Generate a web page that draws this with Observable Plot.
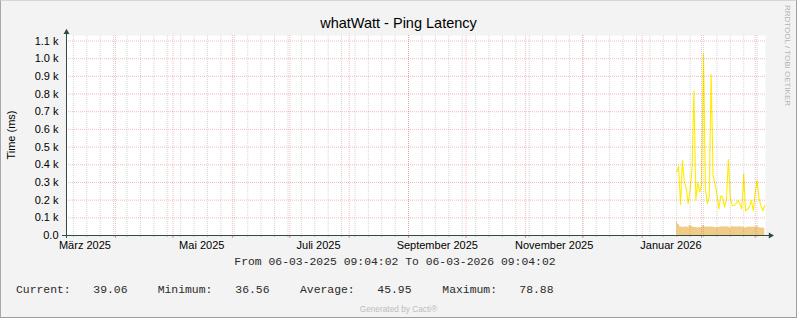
<!DOCTYPE html>
<html>
<head>
<meta charset="utf-8">
<script src="https://cdn.jsdelivr.net/npm/d3@7"></script>
<script src="https://cdn.jsdelivr.net/npm/@observablehq/plot@0.6"></script>
<style>
  html, body { margin: 0; padding: 0; background: #F3F3F3; }
  #chart { position: relative; width: 797px; height: 318px; background: #F3F3F3; overflow: hidden; }
  #chart svg { position: absolute; left: 0; top: 0; }
  .t { position: absolute; white-space: pre; margin: 0; }
  .sans { font-family: "Liberation Sans", Arial, sans-serif; }
  .mono { font-family: "Liberation Mono", "Courier New", monospace; font-size: 11.4px; line-height: 11.4px; color: #2A2A2A; }
  #border { position: absolute; left: 0; top: 0; width: 797px; height: 318px; box-sizing: border-box;
            border-top: 1px solid #D6D6D6; border-left: 1px solid #A8A8A8; border-right: 1px solid #9E9E9E; border-bottom: 1px solid #9E9E9E; pointer-events: none; }
</style>
</head>
<body>
<div id="chart"></div>
<script>
// ---- chart values ----
const titleText = "whatWatt - Ping Latency";
const yAxisLabel = "Time (ms)";
const rangeText = "From 06-03-2025 09:04:02 To 06-03-2026 09:04:02";
const sideText = "RRDTOOL / TOBI OETIKER";
const creditText = "Generated by Cacti®";

const startTime = new Date(Date.UTC(2025, 2, 6, 9, 4, 2));
const endTime = new Date(Date.UTC(2026, 2, 6, 9, 4, 2));

const sampleDays = [
  "2026-01-19","2026-01-20","2026-01-21","2026-01-22","2026-01-23","2026-01-24","2026-01-25",
  "2026-01-26","2026-01-27","2026-01-28","2026-01-29","2026-01-30","2026-01-31",
  "2026-02-01","2026-02-02","2026-02-03","2026-02-04","2026-02-05","2026-02-06","2026-02-07",
  "2026-02-08","2026-02-09","2026-02-10","2026-02-11","2026-02-12","2026-02-13","2026-02-14",
  "2026-02-15","2026-02-16","2026-02-17","2026-02-18","2026-02-19","2026-02-20","2026-02-21",
  "2026-02-22","2026-02-23","2026-02-24","2026-02-25","2026-02-26","2026-02-27","2026-02-28",
  "2026-03-01","2026-03-02","2026-03-03","2026-03-04","2026-03-05","2026-03-06"
];
// peak latency (yellow line), ms
const peakLatency = [
  360, 390, 175, 425, 300, 265, 180, 255, 370, 820, 200, 300, 245,
  290, 1030, 270, 180, 215, 910, 340, 290, 235, 150, 225, 215, 160, 205,
  430, 215, 170, 170, 180, 198, 180, 150, 348, 140, 150, 160, 198, 140,
  240, 312, 208, 170, 140, 170
];
// average latency (filled area), ms
const avgLatency = [
  78.9, 62, 50, 47, 47, 48, 46, 56, 50, 47, 45, 44, 44,
  45, 55, 48, 47, 48, 48, 47, 45, 44, 45, 49, 48, 49, 48,
  48, 42, 49, 48, 48, 48, 49, 48, 47, 43, 47, 46, 47, 47,
  46, 54, 44, 43, 42, 39
];

const yMax = 1131;
const yTicks = [0, 100, 200, 300, 400, 500, 600, 700, 800, 900, 1000, 1100];
const yTickLabels = ["0.0", "0.1 k", "0.2 k", "0.3 k", "0.4 k", "0.5 k", "0.6 k", "0.7 k", "0.8 k", "0.9 k", "1.0 k", "1.1 k"];
const xTickDates = ["2025-03-16", "2025-05-16", "2025-07-16", "2025-09-16", "2025-11-16", "2026-01-16"];
const xTickLabels = ["März 2025", "Mai 2025", "Juli 2025", "September 2025", "November 2025", "Januar 2026"];

const legendLabels = ["Current:", "Minimum:", "Average:", "Maximum:"];
const legendValues = ["39.06", "36.56", "45.95", "78.88"];

// ---- build ----
const rows = sampleDays.map((d, i) => ({date: new Date(d + "T00:00:00Z"), peak: peakLatency[i], avg: avgLatency[i]}));
const yLabelOf = new Map(yTicks.map((v, i) => [v, yTickLabels[i]]));
const xTicks = xTickDates.map(d => new Date(d + "T00:00:00Z"));
const xLabelOf = new Map(xTicks.map((d, i) => [+d, xTickLabels[i]]));
const mondays = d3.utcMonday.range(startTime, endTime);
const monthStarts = d3.utcMonth.range(startTime, endTime);

const axisColor = "#2C4D43";
const majorGrid = "#E06060";
const minorGrid = "#8A8A8A";

const chart = Plot.plot({
  width: 797,
  height: 318,
  marginLeft: 66,
  marginRight: 32,
  marginTop: 35,
  marginBottom: 83,
  style: {background: "transparent", fontFamily: "'Liberation Sans', Arial, sans-serif", fontSize: "11px", color: "#000", overflow: "visible"},
  x: {type: "utc", domain: [startTime, endTime]},
  y: {domain: [0, yMax]},
  marks: [
    Plot.frame({fill: "#FFFFFF", stroke: null}),
    Plot.areaY(rows, {x: "date", y: "avg", curve: "step", fill: "#F2CC86"}),
    Plot.lineY(rows, {x: "date", y: "peak", curve: "linear", stroke: "#FFEC00", strokeWidth: 1.1}),
    Plot.ruleX(mondays, {stroke: minorGrid, strokeOpacity: 0.35, strokeDasharray: "1,1"}),
    Plot.ruleX(monthStarts, {stroke: majorGrid, strokeOpacity: 0.42, strokeDasharray: "1,1"}),
    Plot.ruleY(yTicks.filter(v => v > 0), {stroke: majorGrid, strokeOpacity: 0.42, strokeDasharray: "1,1"}),
    Plot.ruleX(mondays, {y1: 0, y2: 0, insetBottom: -2, stroke: minorGrid, strokeOpacity: 0.5}),
    Plot.ruleX(monthStarts, {y1: 0, y2: 0, insetBottom: -3, stroke: majorGrid, strokeOpacity: 0.7}),
    Plot.ruleY([0], {stroke: axisColor, insetLeft: -4, insetRight: -4}),
    Plot.ruleX([startTime], {stroke: axisColor, insetTop: -4, insetBottom: -3}),
    Plot.dot([startTime], {x: d => d, frameAnchor: "top", symbol: "triangle", r: 2.2, fill: axisColor, stroke: null, dy: -3.3}),
    Plot.dot([0], {y: d => d, frameAnchor: "right", symbol: "triangle", rotate: 90, r: 2.2, fill: axisColor, stroke: null, dx: 5}),
    Plot.axisY(yTicks, {tickSize: 0, tickPadding: 8, tickFormat: d => yLabelOf.get(d), label: null}),
    Plot.axisX(xTicks, {tickSize: 0, tickPadding: 6, tickFormat: d => xLabelOf.get(+d), label: null})
  ]
});

const root = document.getElementById("chart");
root.appendChild(chart);

function addText(text, cls, css) {
  const el = document.createElement("div");
  el.className = "t " + cls;
  el.textContent = text;
  Object.assign(el.style, css);
  root.appendChild(el);
  return el;
}

// title (baseline ~28)
addText(titleText, "sans", {left: "0px", width: "797px", textAlign: "center", fontSize: "14.5px", lineHeight: "14.5px", top: (28 - 0.8465 * 14.5) + "px", color: "#000"});
// y axis label
addText(yAxisLabel, "sans", {left: "11px", top: "135px", fontSize: "11px", lineHeight: "11px", transform: "translate(-50%, -50%) rotate(-90deg)", color: "#000"});
// date range line (baseline ~266)
addText(rangeText, "mono", {left: "234.3px", top: (266 - 0.7665 * 11.4) + "px"});
// legend (baseline ~294)
const labelX = [16, 157.7, 300, 442.3];
const valueX = [93.3, 235.3, 377.3, 519.3];
legendLabels.forEach((lab, i) => {
  addText(lab, "mono", {left: labelX[i] + "px", top: (294 - 0.7665 * 11.4) + "px"});
  addText(legendValues[i], "mono", {left: valueX[i] + "px", top: (294 - 0.7665 * 11.4) + "px"});
});
// credit
addText(creditText, "sans", {left: "0px", width: "797px", textAlign: "center", fontSize: "8.3px", lineHeight: "8.3px", top: (312 - 0.8465 * 8.3) + "px", color: "#BDBDBD"});
// side text, rotated to read top-to-bottom
addText(sideText, "sans", {left: "791.4px", top: "5px", fontSize: "8px", lineHeight: "8px", transformOrigin: "0 0", transform: "rotate(90deg)", color: "#B4B4B4"});

const border = document.createElement("div");
border.id = "border";
root.appendChild(border);
</script>
</body>
</html>
